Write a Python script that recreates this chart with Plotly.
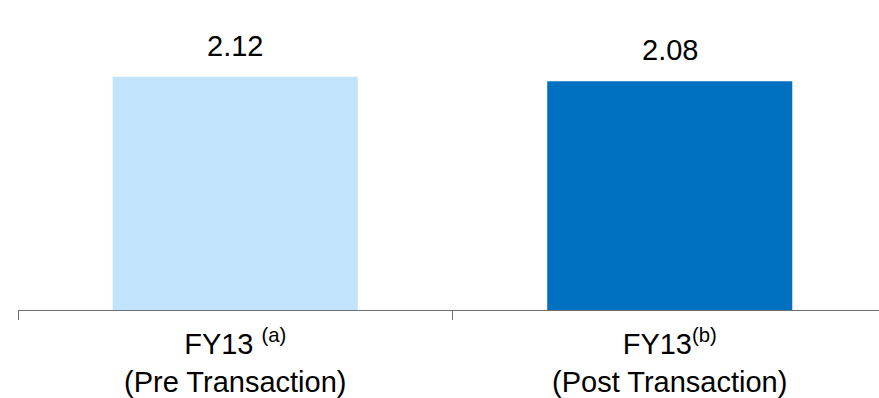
import plotly.graph_objects as go

# Chart data
categories = ["FY13 <sup>(a)</sup><br>(Pre Transaction)", "FY13<sup>(b)</sup><br>(Post Transaction)"]
values = [2.12, 2.08]
bar_colors = ["#C1E4FC", "#0070C0"]
value_labels = ["2.12", "2.08"]

FONT = "Liberation Sans, Arial, sans-serif"

fig = go.Figure(
    go.Bar(
        x=categories,
        y=values,
        marker=dict(color=bar_colors, line=dict(width=0)),
        width=0.564,
        hoverinfo="skip",
    )
)

for cat, val, lab in zip(categories, values, value_labels):
    fig.add_annotation(
        x=cat, y=val, text=lab, showarrow=False,
        yanchor="bottom", yshift=13,
        font=dict(family=FONT, size=29, color="#000000"),
    )

fig.update_layout(
    width=879,
    height=398,
    margin=dict(l=18, r=0, t=24, b=88),
    paper_bgcolor="white",
    plot_bgcolor="white",
    showlegend=False,
    font=dict(family=FONT, size=29, color="#000000"),
)

fig.update_xaxes(
    type="category",
    range=[-0.5, 1.4816],
    showline=True, linecolor="#6f6f6f", linewidth=1,
    ticks="outside", tickson="boundaries", ticklen=9, tickcolor="#6f6f6f",
    ticklabelstandoff=8,
    tickfont=dict(family=FONT, size=29, color="#000000"),
    showgrid=False, zeroline=False,
)
fig.update_yaxes(
    range=[0, 2.6], visible=False, showgrid=False, zeroline=False,
)

fig.write_html("out.html")
